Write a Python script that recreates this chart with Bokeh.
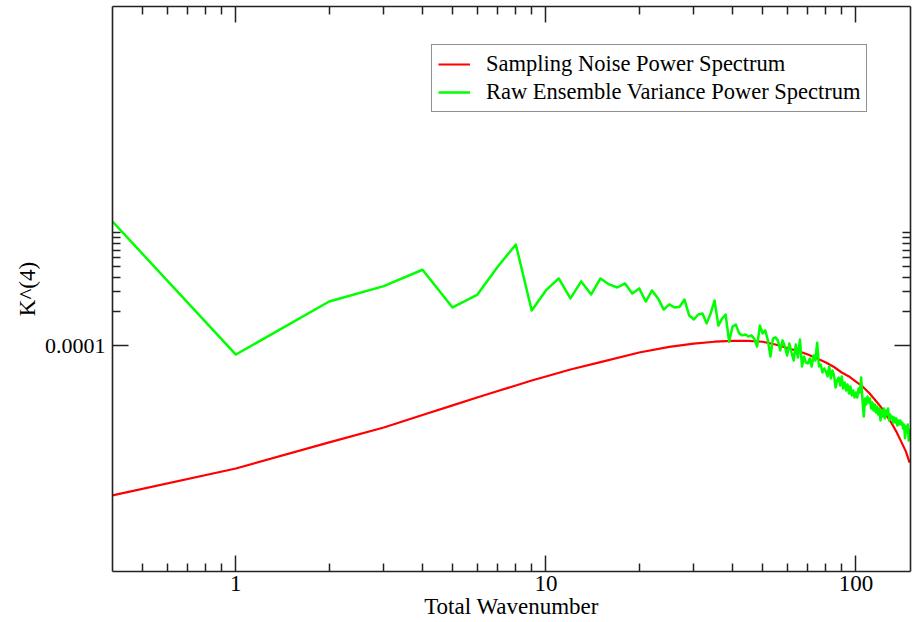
from bokeh.plotting import figure
from bokeh.models import (LogAxis, FixedTicker, CustomJSTickFormatter,
                          Legend, LegendItem, ColumnDataSource)
from bokeh.embed import file_html
from bokeh.resources import INLINE

# ---------------- data ----------------
noise_k = [0.4, 1, 2, 3, 4, 5, 6, 7, 8, 9, 10, 12, 15, 20, 25, 30, 35, 40, 45, 50, 55,
           60, 65, 70, 75, 80, 85, 90, 95, 100, 105, 110, 115, 120, 125, 130, 135,
           140, 145, 149]
noise_power = [4.71e-6, 8.15e-6, 1.39e-5, 1.88e-5, 2.43e-5, 2.95e-5, 3.47e-5, 3.96e-5,
               4.43e-5, 4.90e-5, 5.32e-5, 6.13e-5, 7.12e-5, 8.67e-5, 9.71e-5, 1.04e-4,
               1.08e-4, 1.10e-4, 1.10e-4, 1.08e-4, 1.02e-4, 9.50e-5, 8.94e-5, 8.32e-5,
               7.67e-5, 7.07e-5, 6.45e-5, 5.77e-5, 5.32e-5, 4.80e-5, 4.34e-5, 3.84e-5,
               3.33e-5, 2.89e-5, 2.45e-5, 2.08e-5, 1.73e-5, 1.41e-5, 1.15e-5, 9.21e-6]

ens_k = [0.4] + list(range(1, 150))
ens_power = [
    1.25e-3,
    8.32e-5, 2.45e-4, 3.35e-4, 4.68e-4, 2.17e-4, 2.80e-4, 5.00e-4, 7.83e-4, 2.04e-4, 3.07e-4,   # 1-10
    3.92e-4, 2.61e-4, 3.69e-4, 2.83e-4, 3.92e-4, 3.47e-4, 3.26e-4, 3.54e-4, 2.89e-4, 3.20e-4,   # 11-20
    2.45e-4, 3.07e-4, 2.61e-4, 2.08e-4, 2.31e-4, 2.17e-4, 2.20e-4, 2.55e-4, 1.84e-4, 1.70e-4,   # 21-30
    1.88e-4, 1.92e-4, 1.57e-4, 1.92e-4, 2.50e-4, 1.50e-4, 1.73e-4, 1.88e-4, 1.08e-4, 1.47e-4,   # 31-40
    1.53e-4, 1.28e-4, 1.23e-4, 1.25e-4, 1.20e-4, 1.23e-4, 1.15e-4, 9.80e-5, 1.50e-4, 1.28e-4,   # 41-50
    1.36e-4, 1.11e-4, 7.99e-5, 1.15e-4, 1.18e-4, 1.11e-4, 9.03e-5, 1.11e-4, 9.80e-5, 8.16e-5,   # 51-60
    1.04e-4, 8.67e-5, 7.37e-5, 1.02e-4, 7.83e-5, 1.13e-4, 6.52e-5, 7.99e-5, 7.07e-5, 6.93e-5,   # 61-70
    7.67e-5, 6.52e-5, 8.16e-5, 7.37e-5, 1.06e-4, 6.52e-5, 6.79e-5, 5.77e-5, 6.26e-5, 5.89e-5,   # 71-80
    5.32e-5, 6.52e-5, 5.11e-5, 6.01e-5, 5.43e-5, 4.25e-5, 4.90e-5, 5.21e-5, 4.43e-5, 5.32e-5,   # 81-90
    4.16e-5, 4.71e-5, 4.00e-5, 4.52e-5, 3.76e-5, 4.34e-5, 3.61e-5, 4.00e-5, 3.47e-5, 3.84e-5,   # 91-100
    3.47e-5, 4.16e-5, 3.84e-5, 5.21e-5, 3.26e-5, 2.35e-5, 3.40e-5, 3.01e-5, 3.54e-5, 3.13e-5,   # 101-110
    3.40e-5, 2.77e-5, 3.13e-5, 2.66e-5, 3.01e-5, 2.55e-5, 2.89e-5, 2.45e-5, 2.77e-5, 2.17e-5,   # 111-120
    2.66e-5, 2.35e-5, 2.77e-5, 2.26e-5, 2.66e-5, 2.45e-5, 2.77e-5, 2.17e-5, 2.45e-5, 2.26e-5,   # 121-130
    2.35e-5, 2.08e-5, 2.31e-5, 2.08e-5, 2.26e-5, 1.96e-5, 2.17e-5, 2.00e-5, 2.17e-5, 2.00e-5,   # 131-140
    2.08e-5, 1.84e-5, 2.00e-5, 1.51e-5, 1.92e-5, 1.70e-5, 2.00e-5, 1.44e-5, 1.84e-5,            # 141-149
]

x_major_ticks = [1, 10, 100]
x_minor_ticks = [0.5, 0.6, 0.7, 0.8, 0.9, 2, 3, 4, 5, 6, 7, 8, 9,
                 20, 30, 40, 50, 60, 70, 80, 90]
y_major_ticks = [1e-4]
y_minor_ticks = [2e-4, 3e-4, 4e-4, 5e-4, 6e-4, 7e-4, 8e-4, 9e-4, 1e-3]

legend_labels = ["Sampling Noise Power Spectrum", "Raw Ensemble Variance Power Spectrum"]
x_label = "Total Wavenumber"
y_label = "K^(4)"

# ---------------- figure ----------------
FONT = "Liberation Serif"

p = figure(frame_width=798, frame_height=565,
           x_axis_type="log", y_axis_type="log",
           x_range=(0.4, 150), y_range=(1e-6, 1e-1),
           output_backend="svg", toolbar_location=None,
           min_border_left=112, min_border_top=6, min_border_right=3, min_border_bottom=0,
           x_axis_label=x_label, y_axis_label=y_label)
p.xgrid.visible = False
p.ygrid.visible = False
p.outline_line_color = None
p.background_fill_color = "white"
p.border_fill_color = "white"


def style_axis(ax, ticks, minor, labels=True):
    ax.ticker = FixedTicker(ticks=ticks, minor_ticks=minor)
    ax.axis_line_color = "#222222"
    ax.axis_line_width = 1.6
    ax.major_tick_line_color = "#222222"
    ax.major_tick_line_width = 1.5
    ax.minor_tick_line_color = "#222222"
    ax.minor_tick_line_width = 1.5
    ax.major_tick_in = 16
    ax.major_tick_out = 0
    ax.minor_tick_in = 8
    ax.minor_tick_out = 0
    if labels:
        ax.formatter = CustomJSTickFormatter(code="return tick.toString()")
        ax.major_label_text_font = FONT
        ax.major_label_text_font_size = "22px"
        ax.major_label_text_color = "black"
        ax.axis_label_text_font = FONT
        ax.axis_label_text_font_size = "23px"
        ax.axis_label_text_font_style = "normal"
        ax.axis_label_text_color = "black"
    else:
        ax.formatter = CustomJSTickFormatter(code="return ''")
        ax.major_label_text_font_size = "0px"
        ax.major_label_standoff = 0


xa = p.xaxis[0]
ya = p.yaxis[0]
style_axis(xa, x_major_ticks, x_minor_ticks)
style_axis(ya, y_major_ticks, y_minor_ticks)
xa.major_label_text_font_size = "23px"
xa.major_label_standoff = 4
xa.axis_label_standoff = 0
ya.major_label_standoff = 7
ya.axis_label_standoff = 2

top = LogAxis()
style_axis(top, x_major_ticks, x_minor_ticks, labels=False)
p.add_layout(top, "above")
right = LogAxis()
style_axis(right, y_major_ticks, y_minor_ticks, labels=False)
p.add_layout(right, "right")

noise_src = ColumnDataSource(dict(k=noise_k, v=noise_power))
ens_src = ColumnDataSource(dict(k=ens_k, v=ens_power))

r_red = p.line("k", "v", source=noise_src, line_color="#ff0000", line_width=2.2,
               line_join="round")
r_green = p.line("k", "v", source=ens_src, line_color="#00ff00", line_width=2.5,
                 line_join="round")

legend = Legend(items=[LegendItem(label=legend_labels[0], renderers=[r_red]),
                       LegendItem(label=legend_labels[1], renderers=[r_green])],
                location=(319, 459), margin=0, padding=6, spacing=2,
                glyph_width=32, glyph_height=20, label_standoff=16,
                label_text_font=FONT, label_text_font_size="22.5px",
                label_text_color="black",
                border_line_color="#222222", border_line_width=1.5,
                background_fill_color="white", background_fill_alpha=1.0)
p.add_layout(legend)

open("out.html", "w").write(file_html(p, INLINE))
